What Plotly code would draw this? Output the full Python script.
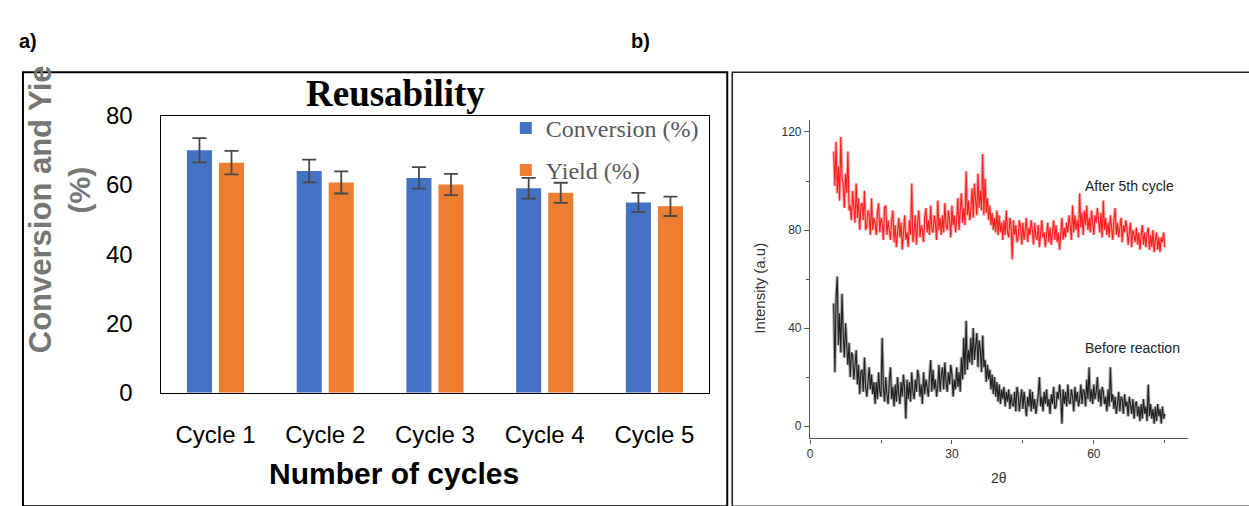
import plotly.graph_objects as go

W, H = 1249, 506


def fx(p):
    return p / W


def fy(p):
    return 1 - p / H


# ---------------- panel a data ----------------
cycles = ["Cycle 1", "Cycle 2", "Cycle 3", "Cycle 4", "Cycle 5"]
conversion = [70.0, 64.0, 62.0, 59.0, 54.9]
conversion_err = [3.5, 3.3, 3.1, 3.0, 2.8]
yield_pct = [66.4, 60.7, 60.1, 57.7, 53.8]
yield_err = [3.4, 3.2, 3.05, 2.9, 2.8]
y_ticks = [0, 20, 40, 60, 80]

# ---------------- panel b data (XRD) ----------------
tt_start = 5.0
tt_step = 0.25
after_5th_cycle = [
    112, 98, 116, 95, 106, 92, 118, 101, 99, 89, 103, 95, 112, 88, 90, 84,
    96, 91, 83, 99, 85, 93, 80, 90, 91, 84, 96, 80, 82, 88, 86, 78,
    93, 80, 85, 83, 78, 87, 91, 79, 85, 83, 76, 89, 90, 78, 84, 80,
    76, 84, 88, 75, 82, 73, 80, 85, 77, 83, 72, 81, 86, 76, 79, 73,
    84, 78, 99, 75, 79, 86, 74, 83, 88, 77, 82, 80, 75, 85, 89, 79,
    84, 78, 90, 80, 79, 86, 83, 76, 92, 80, 85, 78, 86, 79, 91, 82,
    80, 88, 84, 77, 90, 82, 86, 79, 84, 93, 80, 88, 95, 83, 89, 82,
    104, 86, 92, 84, 88, 97, 85, 99, 93, 86, 103, 89, 96, 88, 111, 86,
    101, 87, 93, 84, 90, 82, 87, 80, 85, 79, 88, 78, 86, 79, 83, 76,
    84, 78, 88, 79, 77, 85, 82, 68, 84, 78, 82, 75, 77, 84, 81, 74,
    83, 76, 80, 85, 75, 81, 78, 84, 80, 74, 83, 77, 76, 82, 73, 80,
    84, 77, 79, 73, 79, 83, 75, 81, 74, 80, 84, 76, 82, 75, 79, 72,
    80, 85, 76, 81, 77, 83, 79, 86, 82, 76, 90, 79, 86, 80, 84, 77,
    95, 81, 87, 78, 88, 82, 90, 80, 85, 79, 88, 81, 78, 86, 83, 89,
    84, 79, 87, 77, 92, 80, 85, 78, 83, 77, 86, 80, 76, 84, 89, 78,
    83, 77, 81, 85, 75, 82, 79, 84, 81, 74, 79, 83, 73, 80, 78, 75,
    81, 74, 79, 72, 78, 82, 74, 79, 73, 79, 81, 72, 78, 73, 80, 71,
    76, 79, 72, 77, 71, 77, 75, 79, 73,
]
before_reaction = [
    50, 22, 52, 61, 33, 46, 30, 54, 38, 28, 42, 31, 25, 34, 20, 30,
    29, 19, 26, 31, 17, 25, 13, 22, 23, 14, 28, 16, 12, 20, 24, 15,
    21, 13, 18, 9, 18, 11, 22, 14, 12, 36, 16, 10, 20, 13, 9, 18,
    24, 11, 16, 8, 17, 10, 20, 13, 9, 18, 12, 21, 15, 3, 19, 11,
    18, 10, 22, 14, 11, 19, 14, 23, 20, 12, 17, 9, 22, 13, 19, 16,
    12, 20, 27, 14, 23, 15, 19, 12, 16, 25, 14, 21, 24, 15, 26, 18,
    14, 22, 17, 25, 21, 12, 19, 15, 24, 16, 22, 14, 28, 19, 36, 21,
    43, 23, 31, 26, 36, 25, 40, 27, 33, 38, 24, 35, 31, 22, 37, 24,
    27, 18, 25, 19, 23, 15, 21, 13, 20, 12, 18, 10, 17, 9, 15, 11,
    16, 8, 14, 10, 15, 7, 13, 9, 8, 14, 6, 16, 13, 6, 11, 15,
    7, 14, 9, 4, 12, 8, 15, 6, 14, 7, 11, 5, 9, 13, 20, 8,
    12, 6, 14, 9, 15, 8, 11, 5, 13, 9, 16, 7, 8, 14, 11, 17,
    12, 1, 15, 9, 14, 8, 17, 10, 9, 15, 12, 6, 16, 10, 14, 8,
    11, 17, 9, 15, 14, 8, 19, 11, 24, 10, 15, 9, 17, 11, 14, 20,
    10, 15, 8, 16, 14, 9, 12, 6, 15, 8, 24, 10, 13, 7, 12, 5,
    9, 14, 6, 12, 11, 5, 13, 8, 10, 4, 12, 7, 5, 11, 3, 9,
    10, 4, 8, 2, 9, 3, 11, 5, 8, 2, 17, 4, 9, 3, 7, 1,
    8, 2, 9, 4, 7, 1, 8, 3, 5,
]
two_theta_red = [tt_start + tt_step * i for i in range(len(after_5th_cycle))]
two_theta_black = [tt_start + tt_step * i for i in range(len(before_reaction))]
xrd_x_ticks = [0, 30, 60]
xrd_y_ticks = [0, 40, 80, 120]

fig = go.Figure()

fig.add_trace(go.Bar(
    x=cycles, y=conversion, name="Conversion (%)",
    marker=dict(color="#4472C4", line=dict(width=0)),
    error_y=dict(type="data", array=conversion_err, color="#484848", thickness=1.8, width=7),
    xaxis="x", yaxis="y", legendgroup="c",
))
fig.add_trace(go.Bar(
    x=cycles, y=yield_pct, name="Yield (%)",
    marker=dict(color="#ED7D31", line=dict(width=0)),
    error_y=dict(type="data", array=yield_err, color="#484848", thickness=1.8, width=7),
    xaxis="x", yaxis="y", legendgroup="y",
))

# XRD patterns: a soft wide stroke (blurred look of the scan) under a crisp thin one
for ys, xs, col in [(after_5th_cycle, two_theta_red, "#ff1010"),
                    (before_reaction, two_theta_black, "#111111")]:
    fig.add_trace(go.Scatter(
        x=xs, y=ys, mode="lines", line=dict(color=col, width=3.2), opacity=0.35,
        xaxis="x2", yaxis="y2", showlegend=False, hoverinfo="skip",
    ))
    fig.add_trace(go.Scatter(
        x=xs, y=ys, mode="lines", line=dict(color=col, width=1.1), opacity=0.9,
        xaxis="x2", yaxis="y2", showlegend=False, hoverinfo="skip",
    ))

axis_font = dict(family="Liberation Sans, Arial, sans-serif", size=24, color="#000000")

fig.update_layout(
    width=W, height=H,
    margin=dict(l=0, r=0, t=0, b=0),
    paper_bgcolor="white", plot_bgcolor="white",
    barmode="group", bargap=0.416, bargroupgap=0.218,
    xaxis=dict(
        domain=[fx(158), fx(708)], anchor="y", type="category",
        range=[-0.5, 4.5], showgrid=False, zeroline=False,
        showline=True, mirror=True, linecolor="#000000", linewidth=1.3,
        ticks="", tickfont=axis_font, ticklabelstandoff=20,
    ),
    yaxis=dict(
        domain=[fy(400), fy(107.3)], anchor="x", range=[0, 80],
        tickvals=y_ticks, showgrid=False, zeroline=False,
        showline=True, mirror=True, linecolor="#000000", linewidth=1.3,
        ticks="", tickfont=axis_font, ticklabelstandoff=22,
    ),
    xaxis2=dict(
        domain=[fx(809), fx(1188.3)], anchor="y2", range=[0, 80],
        tickvals=xrd_x_ticks, showgrid=False, zeroline=False,
        showline=True, linecolor="#555555", linewidth=1.3,
        ticks="outside", ticklen=4, tickcolor="#555555", tickwidth=1.2,
        minor=dict(dtick=15, ticks="outside", ticklen=3, tickcolor="#555555"),
        tickfont=dict(family="Liberation Sans, Arial, sans-serif", size=12, color="#333333"),
    ),
    yaxis2=dict(
        domain=[fy(448.3), fy(111.7)], anchor="x2", range=[-5, 125],
        tickvals=xrd_y_ticks, showgrid=False, zeroline=False,
        showline=True, linecolor="#555555", linewidth=1.3,
        ticks="outside", ticklen=5, tickcolor="#555555", tickwidth=1.2,
        minor=dict(dtick=20, ticks="outside", ticklen=3, tickcolor="#555555"),
        tickfont=dict(family="Liberation Sans, Arial, sans-serif", size=12, color="#333333"),
    ),
    legend=dict(
        x=fx(504), y=fy(97), xanchor="left", yanchor="top",
        bgcolor="rgba(0,0,0,0)", traceorder="grouped", tracegroupgap=8,
        font=dict(family="Times New Roman, Liberation Serif, serif", size=24, color="#595959"),
    ),
    showlegend=True,
    shapes=[
        dict(type="rect", xref="paper", yref="paper",
             x0=fx(20), x1=fx(726), y0=fy(520), y1=fy(61.5),
             line=dict(color="#000000", width=2), fillcolor="rgba(0,0,0,0)", layer="below"),
        dict(type="rect", xref="paper", yref="paper",
             x0=fx(731), x1=fx(1260), y0=fy(520), y1=fy(61.5),
             line=dict(color="#222222", width=1.6), fillcolor="rgba(0,0,0,0)", layer="below"),
    ],
)

ann = [
    dict(text="<b>a)</b>", x=fx(25), y=fy(28), size=20, color="#000000",
         family="Liberation Sans, Arial, sans-serif"),
    dict(text="<b>b)</b>", x=fx(639), y=fy(28), size=20, color="#000000",
         family="Liberation Sans, Arial, sans-serif"),
    dict(text="<b>Reusability</b>", x=fx(393), y=fy(84), size=37, color="#000000",
         family="Times New Roman, Liberation Serif, serif"),
    dict(text="<b>Number of cycles</b>", x=fx(392), y=fy(485), size=30, color="#000000",
         family="Liberation Sans, Arial, sans-serif"),
    dict(text="<b>(%)</b>", x=fx(77), y=fy(185.5), size=30, color="#767676",
         family="Liberation Sans, Arial, sans-serif", angle=-90),
    dict(text="Intensity (a.u)", x=fx(758), y=fy(290), size=15, color="#333333",
         family="Liberation Sans, Arial, sans-serif", angle=-90),
    dict(text="2θ", x=fx(998), y=fy(490), size=14, color="#333333",
         family="Liberation Sans, Arial, sans-serif"),
    dict(text="After 5th cycle", x=fx(1129), y=fy(182), size=14, color="#222222",
         family="Liberation Sans, Arial, sans-serif"),
    dict(text="Before reaction", x=fx(1132), y=fy(353), size=14, color="#222222",
         family="Liberation Sans, Arial, sans-serif"),
]
annotations = []
for a in ann:
    annotations.append(dict(
        text=a["text"], x=a["x"], y=a["y"], xref="paper", yref="paper",
        xanchor="center", yanchor="middle", showarrow=False,
        textangle=a.get("angle", 0),
        font=dict(family=a["family"], size=a["size"], color=a["color"]),
    ))
# first line of the y-axis title, clipped at the chart frame in the reference
annotations.append(dict(
    text="<b>Conversion and Yie</b>", x=fx(37.5), y=fy(360), xref="paper", yref="paper",
    xanchor="center", yanchor="bottom", showarrow=False, textangle=-90,
    font=dict(family="Liberation Sans, Arial, sans-serif", size=31, color="#767676"),
))
fig.update_layout(annotations=annotations)

fig.write_html("out.html")
